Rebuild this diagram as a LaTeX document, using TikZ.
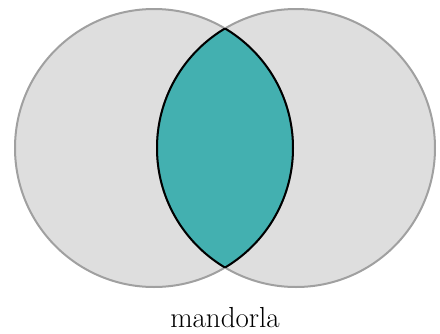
\documentclass[tikz,border=0pt]{standalone}
\begin{document}
\begin{tikzpicture}[x=1pt,y=-1pt,
  setcircle/.style={fill={rgb,255:red,222;green,222;blue,222},draw={rgb,255:red,160;green,160;blue,160},line width=2pt},
  lens/.style={fill={rgb,255:red,67;green,176;blue,176},draw=black,line width=2pt},
  lbl/.style={font=\fontsize{29}{32}\selectfont,anchor=base}]
\useasboundingbox (0,0) rectangle (440,333);
\coordinate (cl) at (154,148);
\coordinate (cr) at (296,148);
\fill[setcircle,draw=none] (cl) circle (139);
\fill[setcircle,draw=none] (cr) circle (139);
\draw[setcircle,fill=none] (cl) circle (139);
\draw[setcircle,fill=none] (cr) circle (139);
\begin{scope}
\clip (cl) circle (139);
\fill[lens,draw=none] (cr) circle (139);
\end{scope}
\begin{scope}
\clip (cl) circle (139);
\draw[lens,fill=none] (cr) circle (139);
\end{scope}
\begin{scope}
\clip (cr) circle (139);
\draw[lens,fill=none] (cl) circle (139);
\end{scope}
\node[lbl] (label) at (225,327) {mandorla};
\end{tikzpicture}
\end{document}
